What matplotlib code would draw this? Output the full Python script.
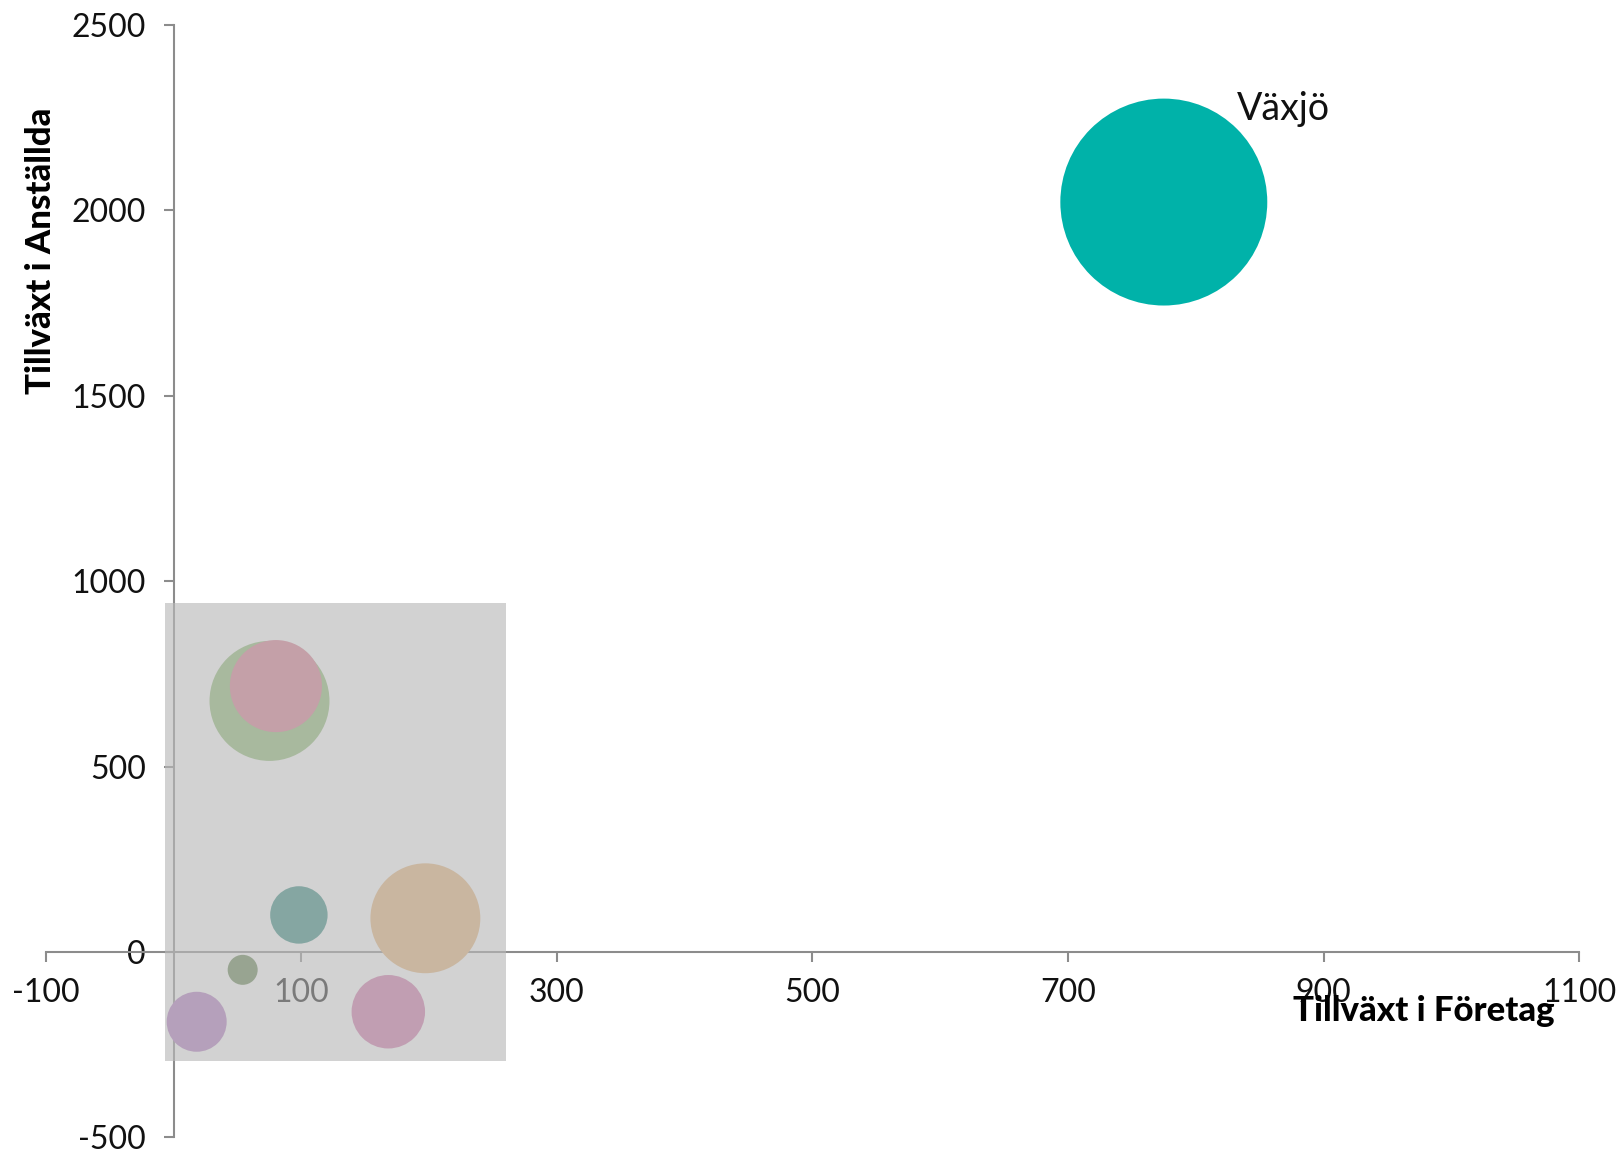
import matplotlib
matplotlib.use("Agg")
import matplotlib.pyplot as plt
from matplotlib.patches import Rectangle

plt.rcParams['font.family'] = ['Lato', 'DejaVu Sans']

# Data
kommuner = ["Växjö", "K1", "K2", "K3", "K4", "K5", "K6", "K7"]
tillvaxt_foretag = [775, 75, 80, 98, 197, 54, 18, 168]
tillvaxt_anstallda = [2022, 677, 717, 100, 91, -48, -188, -161]
storlek = [1000, 336, 198, 77, 282, 21, 84, 126]
farger = ["#00B2A9", "#A8B99E", "#C4A0A8", "#85A6A2", "#C9B6A0",
          "#98A491", "#B5A0BB", "#C19EB2"]
etiketter = ["Växjö", "", "", "", "", "", "", ""]

x_ticks = [-100, 100, 300, 500, 700, 900, 1100]
y_ticks = [-500, 0, 500, 1000, 1500, 2000, 2500]

# highlighted region
omrade_x = (-7, 260)
omrade_y = (-293, 940)

fig = plt.figure(figsize=(16.23, 11.52), dpi=100)
ax = fig.add_axes([0.0283, 0.0126, 0.9446, 0.9659])
ax.set_xlim(-100, 1100)
ax.set_ylim(-500, 2500)

for s in ["top", "right"]:
    ax.spines[s].set_visible(False)
ax.spines["left"].set_position(("data", 0))
ax.spines["bottom"].set_position(("data", 0))
for s in ["left", "bottom"]:
    ax.spines[s].set_color("#8c8c8c")
    ax.spines[s].set_linewidth(1.5)

ax.set_xticks(x_ticks)
ax.set_yticks(y_ticks)
ax.set_xticklabels([str(v) for v in x_ticks])
ax.set_yticklabels([str(v) for v in y_ticks])
ax.tick_params(axis="both", direction="out", length=7, width=1.5,
               color="#8c8c8c", labelsize=23, labelcolor="#111111")
ax.tick_params(axis="x", pad=12)
ax.tick_params(axis="y", pad=13)

# semi-transparent grey region drawn over axis
ax.add_patch(Rectangle((omrade_x[0], omrade_y[0]),
                       omrade_x[1] - omrade_x[0], omrade_y[1] - omrade_y[0],
                       facecolor=(185/255, 185/255, 185/255), alpha=0.63,
                       edgecolor="none", zorder=3))

k = 22.2
ax.scatter(tillvaxt_foretag, tillvaxt_anstallda,
           s=[v * k for v in storlek], c=farger, edgecolors="none",
           zorder=4)

for x, y, lab in zip(tillvaxt_foretag, tillvaxt_anstallda, etiketter):
    if lab:
        ax.text(x + 57, y + 250, lab, fontsize=27, color="#111111",
                ha="left", va="center", zorder=5)

ax.text(-0.003, 0.797, "Tillväxt i Anställda", transform=ax.transAxes,
        rotation=90, ha="center", va="center", fontsize=25,
        fontweight="black", color="#000000")
ax.text(0.899, 0.1137, "Tillväxt i Företag", transform=ax.transAxes,
        ha="center", va="center", fontsize=25,
        fontweight="black", color="#000000", zorder=6)

fig.savefig("out.png", dpi=100)
